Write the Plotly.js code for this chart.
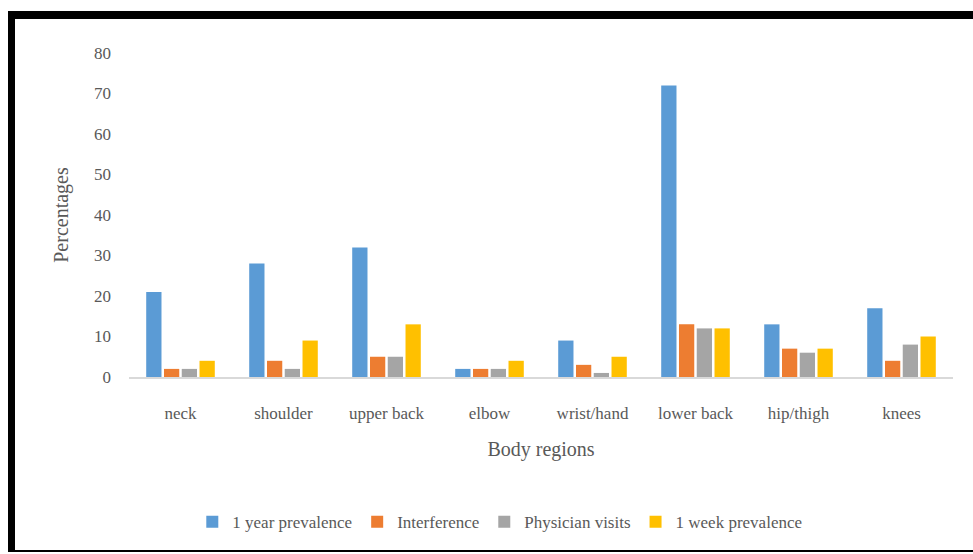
<!DOCTYPE html>
<html>
<head>
<meta charset="utf-8">
<script src="https://cdn.plot.ly/plotly-3.0.1.min.js"></script>
<style>
html,body{margin:0;padding:0;background:#fff;}
#wrap{position:relative;width:973px;height:554px;overflow:hidden;}
#chart{position:absolute;left:0;top:0;width:973px;height:554px;}
.bd{position:absolute;background:#000;}
</style>
</head>
<body>
<div id="wrap">
<div id="chart"></div>
<div class="bd" style="left:8px;top:11px;width:965px;height:8px;"></div>
<div class="bd" style="left:8px;top:11px;width:7px;height:541px;"></div>
<div class="bd" style="left:8px;top:550px;width:965px;height:2px;"></div>
</div>
<script>
var categories = ["neck","shoulder","upper back","elbow","wrist/hand","lower back","hip/thigh","knees"];
var seriesNames = ["1 year prevalence","Interference","Physician visits","1 week prevalence"];
var oneYear = [21, 28, 32, 2, 9, 72, 13, 17];
var interference = [2, 4, 5, 2, 3, 13, 7, 4];
var physician = [2, 2, 5, 2, 1, 12, 6, 8];
var oneWeek = [4, 9, 13, 4, 5, 12, 7, 10];
var yTicks = [0,10,20,30,40,50,60,70,80];

var colors = ["#5B9BD5","#ED7D31","#A5A5A5","#FFC000"];
var values = [oneYear, interference, physician, oneWeek];
var font = "'Liberation Serif', 'Times New Roman', serif";

var traces = values.map(function(v,i){
  return {type:'bar', name:seriesNames[i], x:categories, y:v,
          marker:{color:colors[i]}, hoverinfo:'x+y'};
});

var layout = {
  width:973, height:554,
  paper_bgcolor:'#fff', plot_bgcolor:'#fff',
  margin:{l:129, r:20, t:53, b:176.5},
  barmode:'group', bargap:0.31, bargroupgap:0.14,
  font:{family:font, size:17, color:'#595959'},
  showlegend:true,
  legend:{orientation:'h', x:0.45, xanchor:'center', y:-0.448, yanchor:'middle',
          font:{family:font, size:17, color:'#595959'}, itemwidth:30, traceorder:'normal'},
  xaxis:{type:'category', showgrid:false, zeroline:false, showline:true,
         linecolor:'#D9D9D9', linewidth:2, ticks:'', ticklen:0, ticklabelstandoff:20,
         tickfont:{family:font, size:17, color:'#595959'},
         title:{text:'Body regions', font:{family:font, size:20, color:'#595959'}, standoff:20}},
  yaxis:{range:[0,80], tickvals:yTicks, showgrid:false, zeroline:false, showline:false,
         ticks:'', ticklabelstandoff:17, tickfont:{family:font, size:17, color:'#595959'},
         title:{text:'Percentages', font:{family:font, size:20, color:'#595959'}, standoff:20}}
};

Plotly.newPlot('chart', traces, layout, {displayModeBar:false, staticPlot:true});
</script>
</body>
</html>
